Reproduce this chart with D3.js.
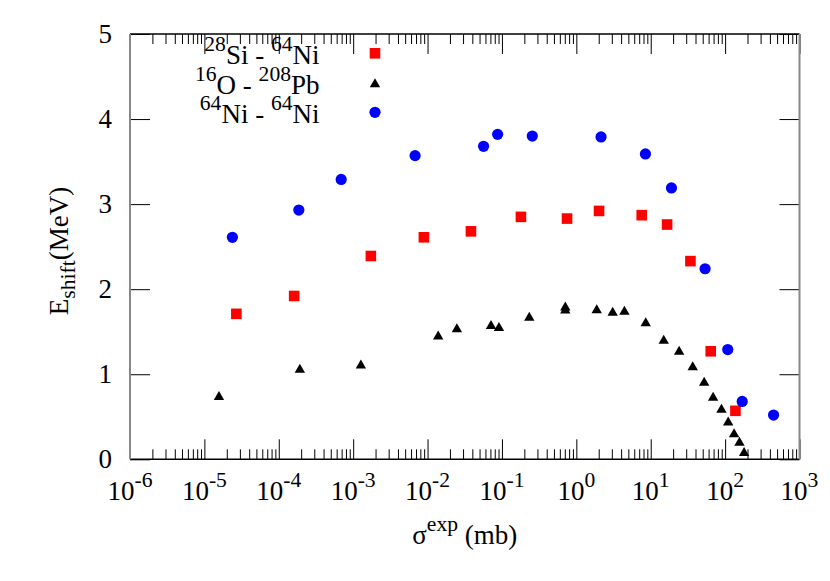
<!DOCTYPE html>
<meta charset="utf-8">
<style>
body { margin: 0; background: #fff; }
svg { font-family: "Liberation Serif", "DejaVu Serif", serif; }
.lbl { font-size: 27px; fill: #000; }
</style>
<body>
<script src="https://d3js.org/d3.v7.min.js"></script>
<script>
// 28Si - 64Ni
var siniX = [2.69e-5, 1.61e-4, 1.73e-3, 8.93e-3, 0.0383, 0.180, 0.75, 2.02, 7.57, 16.6, 34.2, 64.1, 137.7];
var siniY = [1.71, 1.92, 2.39, 2.61, 2.68, 2.85, 2.83, 2.92, 2.87, 2.76, 2.33, 1.27, 0.57];
// 16O - 208Pb
var opbX = [1.57e-5, 1.92e-4, 1.27e-3, 0.0139, 0.0248, 0.0713, 0.0912, 0.233, 0.711, 0.711, 1.88, 3.08,
            4.43, 8.57, 14.96, 24.1, 36.7, 52.3, 69.0, 89.3, 110, 132, 156, 180];
var opbY = [0.75, 1.07, 1.12, 1.46, 1.545, 1.585, 1.56, 1.68, 1.80, 1.765, 1.77, 1.74,
            1.75, 1.615, 1.41, 1.28, 1.10, 0.915, 0.74, 0.60, 0.45, 0.31, 0.21, 0.09];
// 64Ni - 64Ni
var niniX = [2.38e-5, 1.86e-4, 6.9e-4, 6.8e-3, 0.0566, 0.0875, 0.256, 2.15, 8.49, 19.0, 53.8, 108.6, 169.6, 448];
var niniY = [2.61, 2.93, 3.29, 3.57, 3.68, 3.82, 3.80, 3.79, 3.59, 3.19, 2.24, 1.29, 0.68, 0.52];

var xExps = [-6, -5, -4, -3, -2, -1, 0, 1, 2, 3];
var yTicks = [0, 1, 2, 3, 4, 5];

var w = 830, h = 581,
    pLeft = 130, pRight = 799.5, pTop = 34, pBottom = 459.3;

var x = d3.scaleLog().domain([1e-6, 1e3]).range([pLeft, pRight]),
    y = d3.scaleLinear().domain([0, 5]).range([pBottom, pTop]);

var svg = d3.select("body").append("svg")
    .attr("width", w)
    .attr("height", h);

// minor x ticks 2..9 per decade
var minors = [];
xExps.slice(0, -1).forEach(function(e) {
  for (var k = 2; k <= 9; k++) minors.push(k * Math.pow(10, e));
});
var majors = xExps.map(function(e) { return Math.pow(10, e); });

function ticks(axis, vals, size, tr) {
  var g = svg.append("g").attr("transform", tr)
      .call(axis.tickValues(vals).tickSize(size).tickFormat(""));
  g.select(".domain").remove();
  g.selectAll("line").attr("stroke", "#000").attr("stroke-width", 1);
  return g;
}
ticks(d3.axisBottom(x), minors, -10, "translate(0," + pBottom + ")");
ticks(d3.axisBottom(x), majors, -20, "translate(0," + pBottom + ")");
ticks(d3.axisTop(x), minors, -10, "translate(0," + pTop + ")");
ticks(d3.axisTop(x), majors, -20, "translate(0," + pTop + ")");
ticks(d3.axisLeft(y), yTicks, -20, "translate(" + pLeft + ",0)");
ticks(d3.axisRight(y), yTicks, -20, "translate(" + pRight + ",0)");

// frame
svg.append("line").attr("x1", pLeft).attr("x2", pRight).attr("y1", pBottom).attr("y2", pBottom)
    .attr("stroke", "#000").attr("stroke-width", 1.5);
svg.append("line").attr("x1", pLeft).attr("x2", pRight).attr("y1", pTop).attr("y2", pTop)
    .attr("stroke", "#000").attr("stroke-width", 1.5);
svg.append("line").attr("x1", pLeft).attr("x2", pLeft).attr("y1", pTop).attr("y2", pBottom)
    .attr("stroke", "#888").attr("stroke-width", 2);
svg.append("line").attr("x1", pRight).attr("x2", pRight).attr("y1", pTop).attr("y2", pBottom)
    .attr("stroke", "#888").attr("stroke-width", 2);

// x tick labels 10^n
xExps.forEach(function(e) {
  var t = svg.append("text").attr("class", "lbl")
      .attr("x", x(Math.pow(10, e))).attr("y", pBottom + 41)
      .attr("text-anchor", "middle");
  t.append("tspan").text("10");
  t.append("tspan").attr("dy", -13).style("font-size", "21.6px").text(e);
});

// y tick labels
svg.selectAll("text.ylab")
    .data(yTicks)
  .enter().append("text")
    .attr("class", "lbl ylab")
    .attr("x", pLeft - 18)
    .attr("y", function(d) { return y(d); })
    .attr("dy", "0.34em")
    .attr("text-anchor", "end")
    .text(function(d) { return d; });

// axis titles
var yt = svg.append("text").attr("class", "lbl")
    .attr("transform", "translate(68,251) rotate(-90)")
    .attr("text-anchor", "middle");
yt.append("tspan").text("E");
yt.append("tspan").attr("dy", 7).style("font-size", "21.6px").text("shift");
yt.append("tspan").attr("dy", -7).text("(MeV)");

var xt = svg.append("text").attr("class", "lbl")
    .attr("x", (pLeft + pRight) / 2).attr("y", 544)
    .attr("text-anchor", "middle");
xt.append("tspan").text("σ");
xt.append("tspan").attr("dy", -13).style("font-size", "21.6px").text("exp");
xt.append("tspan").attr("dy", 13).text(" (mb)");

// markers
function square(g) {
  g.append("rect").attr("x", -5.3).attr("y", -5.3).attr("width", 10.6).attr("height", 10.6).attr("fill", "#ff0000");
}
function tri(g) {
  g.append("path").attr("d", "M0,-4.6L5.2,4.4L-5.2,4.4Z").attr("fill", "#000");
}
function circ(g) {
  g.append("circle").attr("r", 5.6).attr("fill", "#0000ff");
}

function plot(xs, ys, draw) {
  svg.append("g").selectAll("g")
      .data(d3.zip(xs, ys))
    .enter().append("g")
      .attr("transform", function(d) { return "translate(" + x(d[0]) + "," + y(d[1]) + ")"; })
      .each(function() { draw(d3.select(this)); });
}
plot(siniX, siniY, square);
plot(opbX, opbY, tri);
plot(niniX, niniY, circ);

// legend
var legend = [
  { a: "28", b: "Si - ", c: "64", d: "Ni", draw: square },
  { a: "16", b: "O - ", c: "208", d: "Pb", draw: tri },
  { a: "64", b: "Ni - ", c: "64", d: "Ni", draw: circ }
];
legend.forEach(function(l, i) {
  var by = 64.3 + i * 29.5;
  var t = svg.append("text").attr("class", "lbl")
      .attr("x", 319.5).attr("y", by).attr("text-anchor", "end");
  t.append("tspan").attr("dy", -13).style("font-size", "21.6px").text(l.a);
  t.append("tspan").attr("dy", 13).text(l.b);
  t.append("tspan").attr("dy", -13).style("font-size", "21.6px").text(l.c);
  t.append("tspan").attr("dy", 13).text(l.d);
  l.draw(svg.append("g").attr("transform", "translate(375," + (by - 11) + ")"));
});
</script>
</body>
